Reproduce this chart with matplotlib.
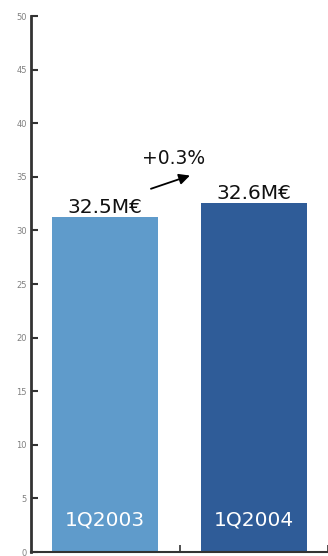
import matplotlib
matplotlib.use("Agg")
import matplotlib.pyplot as plt
import numpy as np

quarters = ['1Q2003', '1Q2004']
heights = [31.25, 32.55]
value_labels = ['32.5M€', '32.6M€']
change_label = '+0.3%'
colors = ['#5f9bcb', '#2f5c98']

fig = plt.figure(figsize=(3.28, 5.56), dpi=100)
ax = fig.add_axes([31/328, 4/556, 297/328, 536/556])

x = np.arange(len(quarters))
bars = ax.bar(x, heights, width=0.716, color=colors, zorder=2)

ax.set_xlim(-0.5, 1.5)
ax.set_ylim(0, 50)
ax.set_yticks(np.arange(0, 51, 5))
ax.set_xticks([0.5, 1.5])
ax.set_xticklabels([])

for s in ['top', 'right']:
    ax.spines[s].set_visible(False)
ax.spines['left'].set_color('#333333')
ax.spines['left'].set_linewidth(2)
ax.spines['bottom'].set_color('#333333')
ax.spines['bottom'].set_linewidth(1.5)
ax.tick_params(axis='y', direction='in', length=5, width=1.5, color='#333333',
               labelsize=6, labelcolor='#808080', pad=3)
ax.tick_params(axis='x', direction='in', length=5, width=1.2, color='#333333')

# value labels over the bars
for b, lab in zip(bars, value_labels):
    ax.text(b.get_x() + b.get_width() / 2, b.get_height() + 0.4, lab,
            ha='center', va='baseline', fontsize=14.5, color='#111111')

# quarter labels inside bars
for xi, q in zip(x, quarters):
    ax.text(xi, 3.0, q, ha='center', va='center', fontsize=14.5, color='white')

ax.annotate('', xy=(0.588, 35.2), xytext=(0.29, 33.8),
            arrowprops=dict(arrowstyle='-|>', color='black', lw=1.3, mutation_scale=16))
ax.text(0.46, 36.75, change_label, ha='center', va='center', fontsize=13.5, color='#111111')

fig.savefig('out.png', dpi=100)
